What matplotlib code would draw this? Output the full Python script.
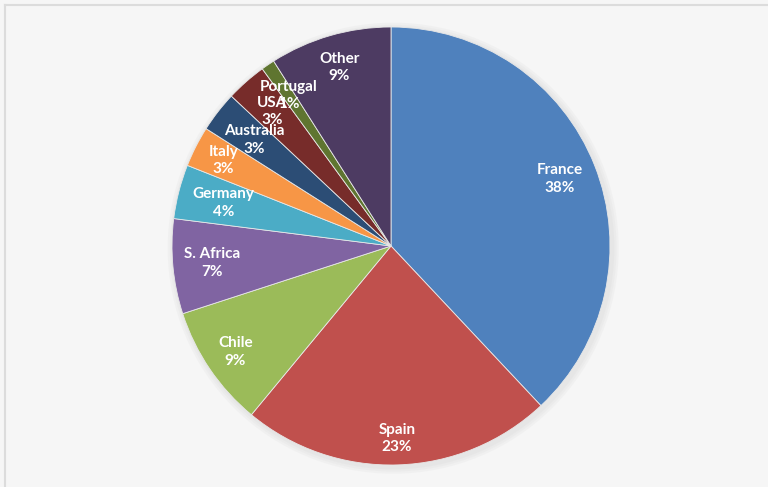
import numpy as np
import matplotlib.pyplot as plt
from matplotlib.patches import Circle
from matplotlib.lines import Line2D

plt.rcParams['font.family'] = ['Lato', 'DejaVu Sans']

countries = ['France', 'Spain', 'Chile', 'S. Africa', 'Germany', 'Italy',
             'Australia', 'USA', 'Portugal', 'Other']
shares = [38, 23, 9, 7, 4, 3, 3, 3, 1, 9]
colors = ['#4F81BD', '#C0504D', '#9BBB59', '#8064A2', '#4BACC6', '#F79646',
          '#2C4D75', '#772C2A', '#5F7530', '#4D3B62']
# how far out each label sits, as a fraction of the radius
label_dist = [0.83, 0.88, 0.86, 0.82, 0.79, 0.86, 0.79, 0.82, 0.83, 0.85]

fig = plt.figure(figsize=(7.68, 4.87), dpi=100)
fig.patch.set_facecolor('#f6f6f6')

# thin frame on the left and top edge
fig.add_artist(Line2D([5 / 768, 5 / 768], [0, 1 - 5 / 487], transform=fig.transFigure,
                      color='#dcdcdc', lw=1.5))
fig.add_artist(Line2D([5 / 768, 1], [1 - 5 / 487, 1 - 5 / 487], transform=fig.transFigure,
                      color='#dcdcdc', lw=1.5))

cx, cy, R = 391, 246, 219
ax = fig.add_axes([(cx - R) / 768, 1 - (cy + R) / 487, 2 * R / 768, 2 * R / 487])

wedges, _ = ax.pie(shares, colors=colors, startangle=90, counterclock=False,
                   radius=1.0, wedgeprops=dict(edgecolor='#e8e8e8', linewidth=0.6))
ax.set_xlim(-1.0, 1.0)
ax.set_ylim(-1.0, 1.0)
ax.axis('off')

# soft shadow behind the pie
for i in range(3):
    ax.add_patch(Circle((0.01, -0.01), 1.0 + 0.01 * (i + 1), color='#909090',
                        alpha=0.05, zorder=0, lw=0, clip_on=False))

total = sum(shares)
cum = 0
for name, v, d in zip(countries, shares, label_dist):
    mid = 90 - 360 * (cum + v / 2) / total
    cum += v
    x = d * np.cos(np.radians(mid))
    y = d * np.sin(np.radians(mid))
    ax.text(x, y, f'{name}\n{v}%', ha='center', va='center', color='white',
            fontsize=11, fontweight='bold', linespacing=1.3, zorder=5)

fig.savefig('out.png', dpi=100, facecolor=fig.get_facecolor())
